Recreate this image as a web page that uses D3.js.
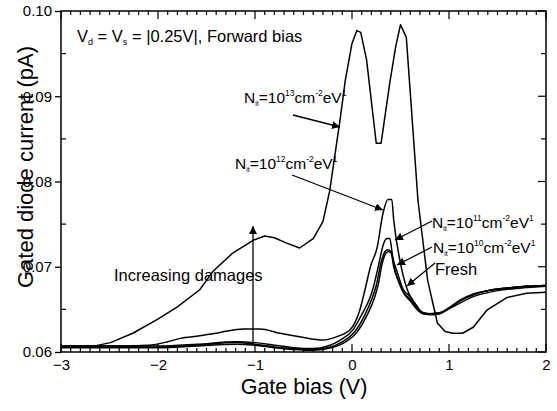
<!DOCTYPE html>
<html>
<head>
<meta charset="utf-8">
<script src="https://cdn.jsdelivr.net/npm/d3@7"></script>
<style>
  body { margin: 0; background: #fff; }
  svg { display: block; font-family: "Liberation Sans", Arial, sans-serif; }
</style>
</head>
<body>
<svg id="chart" width="557" height="411"></svg>
<script>
// Gate bias (V) and gated diode current (pA)
const biasN13 = [-3, -2.7, -2.49, -2.26, -2.01, -1.8, -1.57, -1.5, -1.43, -1.23, -1.02, -0.9, -0.8, -0.68, -0.54, -0.4, -0.3, -0.23, -0.18, -0.12, -0.07, 0, 0.05, 0.09, 0.15, 0.25, 0.30, 0.39, 0.45, 0.5, 0.56, 0.68, 0.78, 0.88, 0.96, 1.04, 1.14, 1.25, 1.39, 1.6, 1.8, 2.0];
const currentN13 = [0.0606, 0.0606, 0.0611, 0.0622, 0.0638, 0.0653, 0.0673, 0.0684, 0.0695, 0.0716, 0.0731, 0.0736, 0.0734, 0.0728, 0.0722, 0.0733, 0.0753, 0.0789, 0.0828, 0.0875, 0.0918, 0.0962, 0.0977, 0.0975, 0.0943, 0.0845, 0.0845, 0.0916, 0.0958, 0.0984, 0.0969, 0.0778, 0.0684, 0.0634, 0.0624, 0.0622, 0.0622, 0.0629, 0.0649, 0.0664, 0.0669, 0.0670];

const biasN12 = [-3, -2.5, -2.1, -1.9, -1.77, -1.57, -1.36, -1.12, -0.95, -0.74, -0.54, -0.3, -0.155, -0.02, 0.08, 0.14, 0.19, 0.26, 0.32, 0.37, 0.41, 0.43, 0.5, 0.57, 0.65, 0.72, 0.78, 0.9, 1.04, 1.25, 1.5, 1.75, 2.0];
const currentN12 = [0.0607, 0.0607, 0.0608, 0.0612, 0.0616, 0.0619, 0.0623, 0.0627, 0.0627, 0.0622, 0.0618, 0.0614, 0.0618, 0.0626, 0.0649, 0.0676, 0.0700, 0.0723, 0.0763, 0.0779, 0.0779, 0.0755, 0.0704, 0.0673, 0.0657, 0.0647, 0.0645, 0.0646, 0.0653, 0.0665, 0.0672, 0.0675, 0.0677];

const biasN11 = [-3, -2.5, -2, -1.6, -1.2, -1.0, -0.8, -0.6, -0.4, -0.25, -0.12, 0.01, 0.11, 0.19, 0.22, 0.28, 0.32, 0.36, 0.39, 0.42, 0.46, 0.53, 0.6, 0.67, 0.73, 0.8, 0.9, 1.0, 1.1, 1.25, 1.4, 1.6, 1.8, 2.0];
const currentN11 = [0.0607, 0.0607, 0.0607, 0.0609, 0.0612, 0.0611, 0.0608, 0.0605, 0.0604, 0.0607, 0.0614, 0.0626, 0.0646, 0.0665, 0.0676, 0.0705, 0.0725, 0.0733, 0.0733, 0.0711, 0.0696, 0.0673, 0.0665, 0.0653, 0.0646, 0.0645, 0.0646, 0.0652, 0.0660, 0.0668, 0.0672, 0.0675, 0.0677, 0.0678];

const biasN10 = [-3, -2.5, -2, -1.6, -1.2, -1.0, -0.8, -0.6, -0.4, -0.25, -0.1, 0.03, 0.13, 0.21, 0.25, 0.3, 0.34, 0.37, 0.4, 0.43, 0.47, 0.53, 0.6, 0.67, 0.73, 0.8, 0.9, 1.0, 1.1, 1.25, 1.4, 1.6, 1.8, 2.0];
const currentN10 = [0.0606, 0.0606, 0.0606, 0.0608, 0.0611, 0.0609, 0.0606, 0.0604, 0.0603, 0.0605, 0.0612, 0.0624, 0.0643, 0.0664, 0.0678, 0.0705, 0.0718, 0.0720, 0.0718, 0.0700, 0.0686, 0.0670, 0.0662, 0.0651, 0.0645, 0.0644, 0.0645, 0.0651, 0.0659, 0.0667, 0.0672, 0.0675, 0.0677, 0.0678];

const biasFresh = [-3, -2.5, -2, -1.6, -1.2, -1.0, -0.8, -0.6, -0.4, -0.25, -0.08, 0.05, 0.15, 0.23, 0.27, 0.31, 0.35, 0.38, 0.41, 0.44, 0.48, 0.54, 0.6, 0.67, 0.73, 0.8, 0.9, 1.0, 1.1, 1.25, 1.4, 1.6, 1.8, 2.0];
const currentFresh = [0.0605, 0.0605, 0.0605, 0.0607, 0.0609, 0.0608, 0.0605, 0.0603, 0.0602, 0.0604, 0.0611, 0.0623, 0.0642, 0.0663, 0.0679, 0.0703, 0.0716, 0.0718, 0.0715, 0.0697, 0.0683, 0.0668, 0.0660, 0.0650, 0.0645, 0.0644, 0.0645, 0.0651, 0.0659, 0.0667, 0.0672, 0.0675, 0.0677, 0.0678];

const xTickValues = [-3, -2, -1, 0, 1, 2];
const yTickValues = [0.06, 0.07, 0.08, 0.09, 0.10];

const svg = d3.select("#chart");
const plot = { left: 61, right: 546, top: 11, bottom: 352 };

const x = d3.scaleLinear().domain([-3, 2]).range([plot.left, plot.right]);
const y = d3.scaleLinear().domain([0.06, 0.10]).range([plot.bottom, plot.top]);

// arrow marker
svg.append("defs").append("marker")
  .attr("id", "arrow")
  .attr("viewBox", "0 0 10 10")
  .attr("refX", 10).attr("refY", 5)
  .attr("markerWidth", 8).attr("markerHeight", 8)
  .attr("markerUnits", "userSpaceOnUse")
  .attr("orient", "auto")
  .append("path")
  .attr("d", "M0,0 L10,5 L0,10 z")
  .attr("fill", "#000");

// curves
const series = [
  { bias: biasN13, current: currentN13, curve: d3.curveLinear },
  { bias: biasN12, current: currentN12, curve: d3.curveMonotoneX },
  { bias: biasN11, current: currentN11, curve: d3.curveMonotoneX },
  { bias: biasN10, current: currentN10, curve: d3.curveMonotoneX },
  { bias: biasFresh, current: currentFresh, curve: d3.curveMonotoneX }
];

series.forEach(s => {
  const pts = s.bias.map((b, i) => [b, s.current[i]]);
  svg.append("path")
    .datum(pts)
    .attr("fill", "none")
    .attr("stroke", "#000")
    .attr("stroke-width", 1.5)
    .attr("stroke-linejoin", "round")
    .attr("d", d3.line().x(d => x(d[0])).y(d => y(d[1])).curve(s.curve));
});

// Axes: labels through d3 axes, box and inner ticks drawn on top
const minorX = d3.range(-3, 2.0001, 0.1).map(v => +v.toFixed(2));
const minorY = [0.065, 0.075, 0.085, 0.095];

const axBottom = svg.append("g").attr("transform", `translate(0,${plot.bottom})`)
  .call(d3.axisBottom(x).tickValues(xTickValues).tickSize(0).tickPadding(7).tickFormat(d3.format("d")));
const axLeft = svg.append("g").attr("transform", `translate(${plot.left},0)`)
  .call(d3.axisLeft(y).tickValues(yTickValues).tickSize(6).tickPadding(3).tickFormat(d3.format(".2f")));

[axBottom, axLeft].forEach(g => {
  g.select(".domain").remove();
  g.selectAll("text").style("font-size", "15px").style("fill", "#000")
    .style("font-family", "'Liberation Sans', Arial, sans-serif");
  g.selectAll("line").attr("stroke", "#000").attr("stroke-width", 1.3);
});

const ticks = svg.append("g").attr("stroke", "#000").attr("stroke-width", 1.2);
minorX.forEach(v => {
  const major = Math.abs(v - Math.round(v)) < 1e-6;
  const len = major ? 8 : 4;
  ticks.append("line").attr("x1", x(v)).attr("x2", x(v)).attr("y1", plot.bottom).attr("y2", plot.bottom - len);
  ticks.append("line").attr("x1", x(v)).attr("x2", x(v)).attr("y1", plot.top).attr("y2", plot.top + len);
});
minorY.forEach(v => {
  ticks.append("line").attr("x1", plot.left).attr("x2", plot.left + 5).attr("y1", y(v)).attr("y2", y(v));
  ticks.append("line").attr("x1", plot.right).attr("x2", plot.right - 5).attr("y1", y(v)).attr("y2", y(v));
});
yTickValues.forEach(v => {
  ticks.append("line").attr("x1", plot.right).attr("x2", plot.right - 8).attr("y1", y(v)).attr("y2", y(v));
});

svg.append("rect")
  .attr("x", plot.left).attr("y", plot.top)
  .attr("width", plot.right - plot.left).attr("height", plot.bottom - plot.top)
  .attr("fill", "none").attr("stroke", "#000").attr("stroke-width", 1.5);

// axis titles
svg.append("text")
  .attr("x", 304).attr("y", 394)
  .attr("text-anchor", "middle")
  .style("font-size", "21.5px")
  .text("Gate bias (V)");

svg.append("text")
  .attr("transform", "translate(33,167) rotate(-90)")
  .attr("text-anchor", "middle")
  .style("font-size", "22px")
  .text("Gated diode current (pA)");

// annotations
const cond = svg.append("text").attr("x", 77).attr("y", 42).style("font-size", "16.5px");
cond.append("tspan").text("V");
cond.append("tspan").attr("dy", 3).style("font-size", "9px").text("d");
cond.append("tspan").attr("dy", -3).text(" = V");
cond.append("tspan").attr("dy", 3).style("font-size", "9px").text("s");
cond.append("tspan").attr("dy", -3).text(" = |0.25V|, Forward bias");

function nitLabel(px, py, exp) {
  const t = svg.append("text").attr("x", px).attr("y", py).style("font-size", "15.5px");
  t.append("tspan").text("N");
  t.append("tspan").attr("dy", 3).style("font-size", "7px").text("it");
  t.append("tspan").attr("dy", -3).text("=10");
  t.append("tspan").attr("dy", -7).style("font-size", "8.5px").text(exp);
  t.append("tspan").attr("dy", 7).text("cm");
  t.append("tspan").attr("dy", -7).style("font-size", "8.5px").text("-2");
  t.append("tspan").attr("dy", 7).text("eV");
  t.append("tspan").attr("dy", -7).style("font-size", "8.5px").text("1");
}
nitLabel(244, 103, "13");
nitLabel(235, 169, "12");
nitLabel(432, 228, "11");
nitLabel(433, 253, "10");

svg.append("text").attr("x", 435).attr("y", 275).style("font-size", "16.5px").text("Fresh");
svg.append("text").attr("x", 114).attr("y", 281).style("font-size", "16.5px").text("Increasing damages");

const arrows = [
  [293, 115, 340, 127],
  [292, 175, 383, 210],
  [432, 221, 395, 240],
  [432, 247, 397, 265],
  [435, 263, 407, 286],
  [253, 344, 253, 226]
];
arrows.forEach(a => {
  svg.append("line")
    .attr("x1", a[0]).attr("y1", a[1]).attr("x2", a[2]).attr("y2", a[3])
    .attr("stroke", "#000").attr("stroke-width", 1.3)
    .attr("marker-end", "url(#arrow)");
});
</script>
</body>
</html>
